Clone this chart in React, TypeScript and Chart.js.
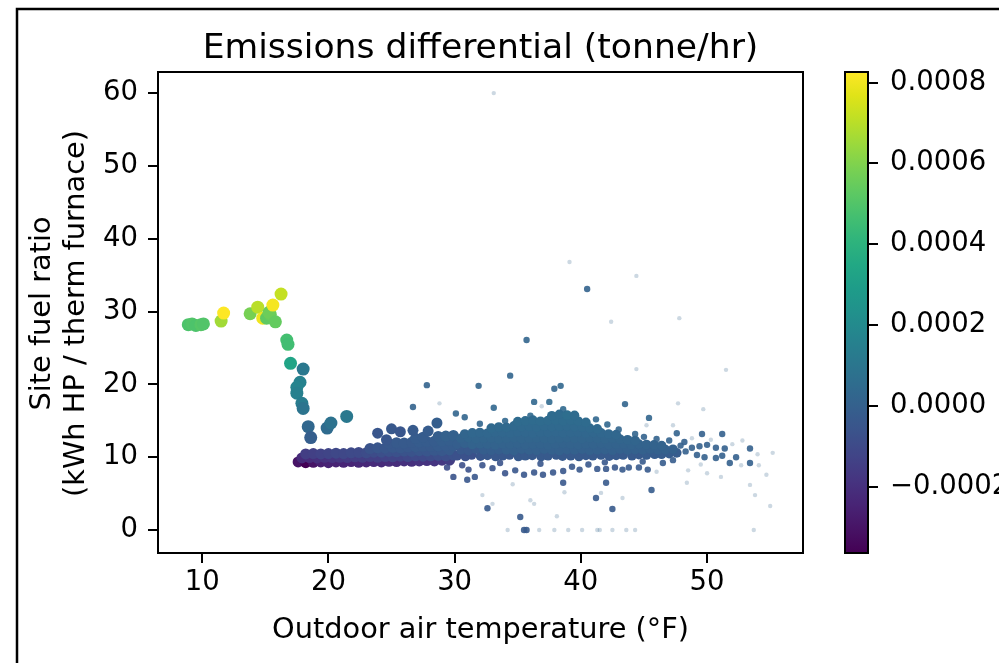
import { useEffect, useRef } from "react";
import { Chart, registerables } from "chart.js";

Chart.register(...registerables);

type Pt = [number, number, number]; // [outdoor temp °F, site fuel ratio, emissions differential tonne/hr]

const chartTitle = "Emissions differential (tonne/hr)";
const xAxisLabel = "Outdoor air temperature (°F)";
const yAxisLabel = ["Site fuel ratio", "(kWh HP / therm furnace)"];
const xTicks = [10, 20, 30, 40, 50];
const yTicks = [0, 10, 20, 30, 40, 50, 60];
const colorbarTicks = [-0.0002, 0, 0.0002, 0.0004, 0.0006, 0.0008];
const xRange = [6.5, 57.6];
const yRange = [-3.15, 62.9];

// coldest hours: large markers
const coldSpike: Pt[] = [
  [8.9, 28.2, 0.00049], [9.2, 28.3, 0.0005], [9.5, 28.1, 0.00049], [9.9, 28.2, 0.00051], [10.1, 28.3, 0.0005],
  [11.5, 28.7, 0.00066], [11.7, 29.8, 0.000826], [13.8, 29.7, 0.00058], [14.4, 30.6, 0.0007], [14.8, 29.1, 0.0008],
  [15.1, 29.1, 0.00053], [15.4, 29.6, 0.00055], [15.3, 29.9, 0.00056], [15.6, 30.9, 0.00081], [15.8, 28.6, 0.00054],
  [16.25, 32.4, 0.00072], [16.7, 26.1, 0.00047], [16.8, 25.5, 0.00046], [17.0, 22.9, 0.00033], [18.0, 22.1, 0.00011],
  [17.75, 20.3, 0.00016], [17.5, 19.6, 0.00017], [17.5, 18.8, 0.00015], [17.9, 17.4, 0.00013], [18.0, 16.7, 0.00009],
  [18.4, 14.2, 0.00003], [18.6, 12.7, -0.00001], [19.9, 14.0, 0.00005], [20.2, 14.7, 0.00008], [21.45, 15.6, 0.00011],
];

// dense band, 17.5–30 °F
const coolBand: Pt[] = [
  [17.6, 9.35, -0.0003], [18.2, 9.25, -0.000364], [18.8, 9.3, -0.0003], [19.4, 9.35, -0.00026], [20.0, 9.25, -0.00025],
  [20.6, 9.35, -0.00025], [21.2, 9.3, -0.00024], [21.8, 9.4, -0.00024], [22.4, 9.3, -0.00023], [23.0, 9.35, -0.00023],
  [23.6, 9.4, -0.00022], [24.2, 9.35, -0.00022], [24.8, 9.45, -0.00021], [25.4, 9.4, -0.00021], [26.0, 9.5, -0.0002],
  [26.6, 9.45, -0.0002], [27.2, 9.5, -0.00019], [27.8, 9.55, -0.00019], [28.4, 9.5, -0.00018], [29.0, 9.6, -0.00017],
  [29.6, 9.6, -0.00015],
  [17.9, 9.9, -0.00022], [18.5, 9.95, -0.00021], [19.1, 9.9, -0.0002], [19.7, 10.0, -0.00019], [20.3, 9.95, -0.00018],
  [20.9, 10.0, -0.00017], [21.5, 9.95, -0.00016], [22.1, 10.05, -0.00015], [22.7, 10.0, -0.00015], [23.3, 10.1, -0.00014],
  [23.9, 10.0, -0.00014], [24.5, 10.1, -0.00013], [25.1, 10.05, -0.00012], [25.7, 10.15, -0.00012], [26.3, 10.1, -0.00011],
  [26.9, 10.2, -0.0001], [27.5, 10.15, -0.0001], [28.1, 10.2, -0.00009], [28.7, 10.25, -0.00008], [29.3, 10.2, -0.00008],
  [29.9, 10.3, -0.00007],
  [18.2, 10.45, -0.00015], [18.8, 10.5, -0.00014], [19.4, 10.45, -0.00013], [20.0, 10.5, -0.00012], [20.6, 10.55, -0.00011],
  [21.2, 10.5, -0.00011], [21.8, 10.6, -0.0001], [22.4, 10.65, -0.0001], [23.0, 10.6, -0.00009], [23.6, 10.7, -0.00009],
  [24.2, 10.7, -0.00008], [24.8, 10.8, -0.00007], [25.4, 10.75, -0.00007], [26.0, 10.85, -0.00006], [26.6, 10.8, -0.00006],
  [27.2, 10.9, -0.00005], [27.8, 10.85, -0.00005], [28.4, 10.95, -0.00004], [29.0, 10.9, -0.00004], [29.6, 11.0, -0.00003],
  [23.3, 11.2, -0.00006], [23.9, 11.3, -0.00005], [24.5, 11.25, -0.00005], [25.1, 11.35, -0.00004], [25.7, 11.3, -0.00004],
  [26.3, 11.4, -0.00004], [26.9, 11.45, -0.00003], [27.5, 11.5, -0.00003], [28.1, 11.5, -0.00003], [28.7, 11.55, -0.00002],
  [29.3, 11.6, -0.00002], [29.9, 11.6, -0.00002],
  [24.8, 11.9, -0.00004], [25.4, 12.0, -0.00003], [26.0, 11.95, -0.00003], [26.6, 12.05, -0.00003], [27.2, 12.1, -0.00002],
  [27.8, 12.15, -0.00002], [28.4, 12.2, -0.00002], [29.0, 12.25, -0.00001], [29.6, 12.3, -0.00001],
  [26.9, 12.6, -0.00002], [27.5, 12.75, -0.00002], [28.7, 12.85, -0.00001], [29.3, 12.9, 0], [29.9, 13.0, 0],
  [23.9, 13.3, -0.00005], [25.0, 13.9, -0.00004], [25.7, 13.5, -0.00005], [26.7, 13.7, -0.00003], [28.6, 14.7, -0.00001],
  [24.6, 12.4, -0.00005], [27.9, 13.6, -0.00002],
];

// dense band, 30–48 °F
const mildBand: Pt[] = [
  [30.2, 10.2, -0.00007], [30.85, 10.1, -0.00007], [31.35, 10.3, -0.00007], [32.05, 10.15, -0.00005], [32.6, 10.25, -0.00004],
  [33.25, 10.1, -0.00004], [33.8, 10.2, -0.00004], [34.35, 10.3, -0.00004], [35.05, 10.1, -0.00003], [35.6, 10.2, -0.00003],
  [36.15, 10.25, -0.00003], [36.85, 10.1, -0.00003], [37.4, 10.2, -0.00003], [38.05, 10.3, -0.00003], [38.55, 10.15, -0.00003],
  [39.2, 10.2, -0.00003], [39.85, 10.1, -0.00003], [40.4, 10.25, -0.00003], [40.95, 10.2, -0.00003], [41.6, 10.3, -0.00003],
  [42.25, 10.15, -0.00003], [42.8, 10.25, -0.00003], [43.35, 10.3, -0.00003], [44.05, 10.2, -0.00003], [44.6, 10.35, -0.00003],
  [45.2, 10.3, -0.00002], [45.85, 10.4, -0.00002], [46.4, 10.4, -0.00002], [47.0, 10.5, -0.00002], [47.6, 10.6, -0.00002],
  [30.5, 11.0, -0.00004], [31.1, 10.9, -0.00004], [31.7, 11.1, -0.00003], [32.3, 11.0, -0.00001], [32.9, 10.95, -0.00001],
  [33.5, 11.05, -0.00001], [34.1, 11.0, 0], [34.7, 10.9, 0], [35.3, 11.1, 0], [35.9, 11.0, 0],
  [36.5, 10.95, 0], [37.1, 11.1, 0], [37.7, 11.0, 0], [38.3, 10.9, 0], [38.9, 11.05, 0],
  [39.5, 11.0, 0], [40.1, 11.1, 0], [40.7, 10.95, 0], [41.3, 11.0, 0], [41.9, 11.05, 0],
  [42.5, 10.95, 0], [43.1, 11.1, 0], [43.7, 11.0, 0], [44.3, 11.05, 0], [44.9, 11.0, 0],
  [45.5, 11.1, 0], [46.1, 11.0, 0], [46.7, 11.05, 0], [47.3, 11.1, 0],
  [30.2, 11.8, -0.00001], [30.8, 11.9, 0], [31.4, 11.75, 0.00001], [32.0, 11.85, 0.00001], [32.6, 11.8, 0.00001],
  [33.2, 11.7, 0.00001], [33.8, 11.85, 0.00001], [34.4, 11.8, 0.00001], [35.0, 11.9, 0.00001], [35.6, 11.75, 0.00001],
  [36.2, 11.8, 0.00001], [36.8, 11.85, 0.00001], [37.4, 11.7, 0.00001], [38.0, 11.8, 0.00001], [38.6, 11.9, 0.00001],
  [39.2, 11.8, 0.00001], [39.8, 11.75, 0.00001], [40.4, 11.85, 0.00001], [41.0, 11.8, 0.00001], [41.6, 11.9, 0.00001],
  [42.2, 11.75, 0.00001], [42.8, 11.8, 0.00001], [43.4, 11.85, 0.00001], [44.0, 11.7, 0.00001], [44.6, 11.8, 0.00001],
  [45.2, 11.75, 0.00001], [45.8, 11.7, 0.00001], [46.4, 11.6, 0.00001],
  [30.5, 12.6, 0.00001], [31.1, 12.7, 0.00002], [31.7, 12.55, 0.00002], [32.3, 12.6, 0.00002], [32.9, 12.65, 0.00002],
  [33.5, 12.5, 0.00002], [34.1, 12.6, 0.00002], [34.7, 12.7, 0.00002], [35.3, 12.55, 0.00002], [35.9, 12.6, 0.00002],
  [36.5, 12.65, 0.00002], [37.1, 12.6, 0.00002], [37.7, 12.5, 0.00002], [38.3, 12.6, 0.00002], [38.9, 12.7, 0.00002],
  [39.5, 12.6, 0.00002], [40.1, 12.55, 0.00002], [40.7, 12.65, 0.00002], [41.3, 12.6, 0.00002], [41.9, 12.5, 0.00002],
  [42.5, 12.6, 0.00002], [43.1, 12.5, 0.00002], [43.7, 12.4, 0.00002], [44.3, 12.3, 0.00002],
  [30.8, 13.2, 0.00002], [31.4, 13.35, 0.00003], [32.0, 13.4, 0.00003], [32.6, 13.3, 0.00003], [33.2, 13.45, 0.00003],
  [33.8, 13.4, 0.00003], [34.4, 13.35, 0.00003], [35.0, 13.5, 0.00003], [35.6, 13.4, 0.00003], [36.2, 13.3, 0.00003],
  [36.8, 13.45, 0.00003], [37.4, 13.4, 0.00003], [38.0, 13.5, 0.00003], [38.6, 13.35, 0.00003], [39.2, 13.4, 0.00003],
  [39.8, 13.45, 0.00003], [40.4, 13.3, 0.00003], [41.0, 13.4, 0.00003], [41.6, 13.35, 0.00003], [42.2, 13.2, 0.00003],
  [42.8, 13.1, 0.00003],
  [32.9, 14.0, 0.00004], [33.5, 14.15, 0.00004], [34.1, 14.1, 0.00004], [34.7, 14.3, 0.00004], [35.3, 14.2, 0.00004],
  [35.9, 14.25, 0.00004], [36.5, 14.15, 0.00004], [37.1, 14.3, 0.00004], [37.7, 14.2, 0.00004], [38.3, 14.25, 0.00004],
  [38.9, 14.3, 0.00004], [39.5, 14.2, 0.00004], [40.1, 14.15, 0.00004], [40.7, 14.0, 0.00004], [41.3, 13.9, 0.00004],
  [35.0, 14.9, 0.00005], [35.6, 15.0, 0.00005], [36.2, 15.1, 0.00005], [36.8, 14.95, 0.00005], [37.4, 15.05, 0.00005],
  [38.0, 15.1, 0.00005], [38.6, 15.0, 0.00005], [39.2, 15.1, 0.00005], [39.8, 14.95, 0.00005], [40.4, 14.8, 0.00005],
  [37.7, 15.7, 0.00005], [38.3, 15.9, 0.00005], [38.9, 15.8, 0.00006], [39.5, 15.75, 0.00005],
];

// scattered hours around the band
const scatteredHours: Pt[] = [
  [27.8, 19.9, 0.00001], [31.9, 19.8, 0.00002], [34.4, 21.2, 0.00002], [37.9, 19.4, 0.00002], [38.4, 19.8, 0.00003],
  [26.7, 16.9, 0.00001], [30.1, 16.0, 0.00002], [30.8, 15.5, 0.00002], [33.1, 16.8, 0.00003], [36.3, 17.6, 0.00003],
  [37.5, 17.6, 0.00004], [38.6, 16.6, 0.00004], [43.5, 17.3, 0.00002], [45.4, 15.4, 0.00002], [35.7, 26.1, 0.00002],
  [40.5, 33.1, 0.00001], [41.2, 15.2, 0.00003], [42.1, 14.5, 0.00003], [43.0, 13.8, 0.00002], [44.3, 13.2, 0.00002],
  [45.0, 12.8, 0.00001], [46.0, 12.5, 0.00001], [47.0, 12.3, 0.00001], [36.0, 15.7, 0.00004], [34.0, 15.0, 0.00003],
  [32.0, 14.6, 0.00002],
  [47.6, 13.3, 0.00001], [49.6, 13.2, 0], [51.2, 13.2, 0], [48.2, 12.1, 0], [49.4, 11.5, 0], [50.0, 11.7, 0],
  [50.7, 11.3, 0], [51.4, 11.2, 0], [53.4, 11.2, 0], [49.2, 10.3, 0], [49.8, 10.0, 0], [50.7, 9.9, 0],
  [51.2, 10.2, 0], [51.8, 9.2, 0], [52.3, 10.0, 0], [53.4, 9.2, 0], [48.3, 10.8, 0], [48.8, 11.3, 0], [47.9, 11.6, 0],
  [29.9, 7.3, -0.00006], [31.0, 6.9, -0.00005], [31.6, 7.3, -0.00005], [32.6, 3.0, -0.00003], [35.2, 1.8, -0.00003],
  [38.6, 6.5, -0.00004], [41.2, 4.4, -0.00003], [42.0, 6.5, -0.00003], [42.5, 2.9, -0.00003], [45.6, 5.5, -0.00002],
  [35.5, 0.0, -0.00003], [35.7, 0.0, -0.00003],
  [29.4, 8.6, -0.00009], [30.6, 8.9, -0.00008], [31.1, 8.3, -0.00007], [32.2, 8.9, -0.00006], [33.0, 8.5, -0.00006],
  [34.0, 7.8, -0.00006], [34.8, 8.2, -0.00005], [35.5, 7.6, -0.00005], [36.3, 7.9, -0.00005], [37.0, 7.6, -0.00005],
  [37.8, 7.9, -0.00005], [38.6, 8.1, -0.00005], [39.3, 8.7, -0.00004], [39.9, 8.3, -0.00004], [40.6, 9.0, -0.00004],
  [41.3, 8.4, -0.00004], [42.0, 8.4, -0.00004], [42.7, 8.6, -0.00004], [43.3, 8.3, -0.00003], [43.8, 8.6, -0.00003],
  [44.6, 8.6, -0.00003], [45.3, 8.3, -0.00003], [46.5, 9.2, -0.00002], [47.3, 9.6, -0.00002], [36.8, 9.1, -0.00005],
  [33.6, 9.2, -0.00006], [44.9, 9.4, -0.00003], [41.9, 9.3, -0.00004],
];

// low-load hours: tiny, faint markers
const lowLoadHours: Pt[] = [
  [33.1, 60.0, 0.00001], [39.1, 36.8, 0.00001], [44.4, 34.9, 0.00001], [42.4, 28.6, 0.00001], [47.8, 29.1, 0.00001],
  [28.8, 17.4, 0.00001], [36.9, 17.0, 0.00001], [44.4, 22.1, 0.00001], [51.5, 22.0, 0.00001], [47.7, 17.4, 0.00001],
  [49.7, 16.6, 0.00001], [45.2, 14.4, 0.00001], [47.3, 14.4, 0.00001], [55.2, 10.6, 0.00001], [52.7, 8.9, 0.00001],
  [54.1, 8.9, 0.00001], [54.7, 7.6, 0.00001], [53.4, 6.2, 0.00001], [53.8, 4.8, 0.00001], [55.0, 3.3, 0.00001],
  [38.7, 5.2, 0.00001], [41.6, 5.1, 0.00001], [43.3, 4.4, 0.00001], [48.4, 6.5, 0.00001], [48.5, 8.2, 0.00001],
  [50.0, 7.8, 0.00001], [51.1, 7.3, 0.00001], [32.2, 4.8, 0.00001], [33.0, 3.6, 0.00001], [36.0, 4.1, 0.00001],
  [36.3, 3.6, 0.00001], [38.1, 1.9, 0.00001], [34.6, 6.3, 0.00001], [34.2, 0, 0.00001], [36.7, 0, 0.00001],
  [37.9, 0, 0.00001], [39.0, 0, 0.00001], [40.1, 0, 0.00001], [41.3, 0, 0.00001], [41.5, 0, 0.00001],
  [42.5, 0, 0.00001], [43.6, 0, 0.00001], [44.3, 0, 0.00001], [53.7, 0, 0.00001], [48.8, 12.6, 0.00001],
  [50.3, 12.4, 0.00001], [52.0, 11.8, 0.00001], [52.8, 12.3, 0.00001], [54.0, 10.4, 0.00001], [46.0, 8.0, 0.00001],
  [49.5, 9.0, 0.00001],
];

const VIRIDIS = [
  "#440154", "#471365", "#482475", "#463480", "#414487", "#3b528b", "#355f8d", "#2f6c8e", "#2a788e", "#25848e",
  "#21918c", "#1e9c89", "#22a884", "#2fb47c", "#44bf70", "#5ec962", "#7ad151", "#9bd93c", "#bddf26", "#dfe318", "#fde725",
];
const FONT = '"DejaVu Sans", "Liberation Sans", sans-serif';

function hexRgb(h: string): number[] {
  return [parseInt(h.slice(1, 3), 16), parseInt(h.slice(3, 5), 16), parseInt(h.slice(5, 7), 16)];
}
function viridis(f: number): number[] {
  const c = Math.max(0, Math.min(1, f)) * (VIRIDIS.length - 1);
  const i = Math.min(VIRIDIS.length - 2, Math.floor(c));
  const t = c - i;
  const a = hexRgb(VIRIDIS[i]);
  const b = hexRgb(VIRIDIS[i + 1]);
  return a.map((v, k) => Math.round(v + (b[k] - v) * t));
}
function fmtCb(v: number): string {
  if (Math.abs(v) < 1e-12) return "0.0000";
  return (v < 0 ? "\u2212" : "") + Math.abs(v).toFixed(4);
}

export default function App() {
  const ref = useRef<HTMLCanvasElement>(null);
  useEffect(() => {
    document.body.style.margin = "0";
    const all = [...coldSpike, ...coolBand, ...mildBand, ...scatteredHours, ...lowLoadHours];
    const vmin = Math.min(...all.map((p) => p[2]));
    const vmax = Math.max(...all.map((p) => p[2]));
    const colorOf = (e: number, alpha: number) => {
      const [r, g, b] = viridis((e - vmin) / (vmax - vmin));
      return `rgba(${r},${g},${b},${alpha})`;
    };
    const mk = (pts: Pt[], radius: number, alpha: number) => ({
      data: pts.map(([x, y, e]) => ({ x, y, e })),
      pointRadius: radius,
      pointHoverRadius: radius,
      pointBorderWidth: 0,
      pointBackgroundColor: (ctx: any) => colorOf(ctx.raw ? ctx.raw.e : 0, alpha),
      showLine: false,
    });
    const fixFit = (w?: number, h?: number) => (s: any) => {
      if (w !== undefined) s.width = w;
      if (h !== undefined) s.height = h;
      s.paddingLeft = 0; s.paddingRight = 0; s.paddingTop = 0; s.paddingBottom = 0;
    };
    const tickFont = { family: FONT, size: 27.5 };

    const decor = {
      id: "decor",
      afterDraw(chart: any) {
        const { ctx, chartArea: a } = chart;
        const cb = chart.scales.cb;
        ctx.save();
        ctx.strokeStyle = "#000";
        ctx.lineWidth = 2;
        ctx.strokeRect(a.left, a.top, a.right - a.left, a.bottom - a.top);
        // colorbar
        const x0 = 845, x1 = 868;
        const g = ctx.createLinearGradient(0, a.bottom, 0, a.top);
        VIRIDIS.forEach((c, i) => g.addColorStop(i / (VIRIDIS.length - 1), c));
        ctx.fillStyle = g;
        ctx.fillRect(x0, a.top, x1 - x0, a.bottom - a.top);
        ctx.strokeRect(x0, a.top, x1 - x0, a.bottom - a.top);
        ctx.beginPath();
        colorbarTicks.forEach((v) => {
          const y = Math.round(cb.getPixelForValue(v));
          ctx.moveTo(x1, y);
          ctx.lineTo(x1 + 10, y);
        });
        ctx.stroke();
        // texts
        ctx.fillStyle = "#000";
        ctx.textAlign = "center";
        ctx.textBaseline = "alphabetic";
        const cx = (a.left + a.right) / 2;
        ctx.font = `34.6px ${FONT}`;
        ctx.fillText(chartTitle, cx, 58);
        ctx.font = `28.8px ${FONT}`;
        ctx.fillText(xAxisLabel, cx, 638);
        ctx.save();
        ctx.translate(0, (a.top + a.bottom) / 2 + 1);
        ctx.rotate(-Math.PI / 2);
        ctx.fillText(yAxisLabel[0], 0, 50);
        ctx.fillText(yAxisLabel[1], 0, 84);
        ctx.restore();
        // figure frame
        ctx.lineWidth = 2.5;
        ctx.beginPath();
        ctx.moveTo(17, 663);
        ctx.lineTo(17, 9);
        ctx.lineTo(999, 9);
        ctx.stroke();
        ctx.restore();
      },
    };

    const chart = new Chart(ref.current as HTMLCanvasElement, {
      type: "scatter",
      data: {
        datasets: [
          mk(lowLoadHours, 2.2, 0.25),
          mk(scatteredHours, 3.2, 0.9),
          mk(mildBand, 4.8, 1),
          mk(coolBand, 5.5, 1),
          mk(coldSpike, 6.5, 1),
        ] as any,
      },
      options: {
        responsive: false,
        animation: false,
        devicePixelRatio: 1,
        events: [],
        layout: { padding: { top: 72, left: 0, right: 0, bottom: 0 }, autoPadding: false },
        plugins: { legend: { display: false }, tooltip: { enabled: false }, title: { display: false } },
        scales: {
          x: {
            type: "linear",
            min: xRange[0],
            max: xRange[1],
            afterBuildTicks: (s: any) => { s.ticks = xTicks.map((v) => ({ value: v })); },
            afterFit: fixFit(undefined, 110),
            grid: { drawOnChartArea: false, drawTicks: true, tickLength: 10, color: "#000", lineWidth: 2 },
            border: { display: false },
            ticks: { font: tickFont, color: "#000", padding: 3, maxRotation: 0, autoSkip: false },
          },
          y: {
            type: "linear",
            position: "left",
            min: yRange[0],
            max: yRange[1],
            afterBuildTicks: (s: any) => { s.ticks = yTicks.map((v) => ({ value: v })); },
            afterFit: fixFit(158, undefined),
            grid: { drawOnChartArea: false, drawTicks: true, tickLength: 10, color: "#000", lineWidth: 2 },
            border: { display: false },
            ticks: { font: tickFont, color: "#000", padding: 10, autoSkip: false },
          },
          cb: {
            type: "linear",
            position: "right",
            min: vmin,
            max: vmax,
            afterBuildTicks: (s: any) => { s.ticks = colorbarTicks.map((v) => ({ value: v })); },
            afterFit: fixFit(196, undefined),
            grid: { display: false, drawTicks: false },
            border: { display: false },
            ticks: { font: tickFont, color: "#000", padding: 87, autoSkip: false, callback: (v: any) => fmtCb(Number(v)) },
          },
        },
      } as any,
      plugins: [decor],
    });
    return () => chart.destroy();
  }, []);
  return <canvas ref={ref} width={999} height={663} style={{ display: "block" }} />;
}
